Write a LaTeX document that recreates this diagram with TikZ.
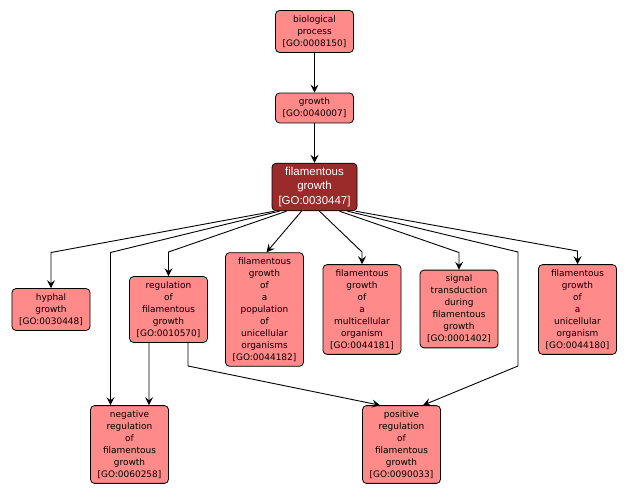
\documentclass[tikz,border=0pt]{standalone}
\usepackage{fontspec}
\setmainfont{DejaVu Sans}
\newfontfamily\focusfont{Liberation Sans}
\usetikzlibrary{arrows.meta}

\definecolor{gopink}{HTML}{FF8A8A}
\definecolor{godark}{HTML}{9B2B2B}

\tikzset{
  term/.style={draw=black, line width=0.8bp, fill=gopink, rounded corners=4bp,
    minimum width=78bp, inner xsep=2bp, inner ysep=5bp, align=center,
    font=\fontsize{9}{12}\selectfont},
  focus/.style={term, fill=godark, text=white, minimum width=85bp, inner ysep=4bp,
    font=\focusfont\fontsize{11.5}{14.5}\selectfont},
  isa/.style={line width=0.9bp, -{Stealth[length=8bp,width=8bp,inset=3bp]}}
}

\begin{document}
\begin{tikzpicture}[x=1bp,y=-1bp]
\useasboundingbox (0,0) rectangle (629,495);

% Terms
\node[term] (bio) at (314.5,31.5) {biological\\process\\{[GO:0008150]}};
\node[term] (grow) at (314.5,108) {growth\\{[GO:0040007]}};
\node[focus] (fil) at (314.5,187) {filamentous\\growth\\{[GO:0030447]}};

\node[term] (hyph) at (51,309.5) {hyphal\\growth\\{[GO:0030448]}};
\node[term] (reg) at (168.5,309.5) {regulation\\of\\filamentous\\growth\\{[GO:0010570]}};
\node[term] (pop) at (264.5,309.5) {filamentous\\growth\\of\\a\\population\\of\\unicellular\\organisms\\{[GO:0044182]}};
\node[term] (multi) at (362,309.5) {filamentous\\growth\\of\\a\\multicellular\\organism\\{[GO:0044181]}};
\node[term] (sig) at (459,309) {signal\\transduction\\during\\filamentous\\growth\\{[GO:0001402]}};
\node[term] (uni) at (577.5,309.5) {filamentous\\growth\\of\\a\\unicellular\\organism\\{[GO:0044180]}};

\node[term] (neg) at (129.5,444.5) {negative\\regulation\\of\\filamentous\\growth\\{[GO:0060258]}};
\node[term] (pos) at (401.5,444.5) {positive\\regulation\\of\\filamentous\\growth\\{[GO:0090033]}};

% Bend points
\coordinate (kh) at (51,252.5);   % to hyphal
\coordinate (kn) at (110.5,252.5); % to negative
\coordinate (kr) at (168.5,252);  % to regulation
\coordinate (km) at (362,252);    % to multicellular
\coordinate (ks) at (459,252.5);  % to signal
\coordinate (kp) at (518,252);    % to positive (top)
\coordinate (kq) at (518,366);    % to positive (low)
\coordinate (ku) at (577.5,251);  % to unicellular
\coordinate (kg) at (188,366);    % regulation to positive

% Edges
\draw[isa] (bio) -- (grow);
\draw[isa] (grow) -- (fil);
\draw[isa] ([xshift=-40bp]fil.south) -- (kh) -- (hyph);
\draw[isa] ([xshift=-35bp]fil.south) -- (kn) -- (kn |- neg.north);
\draw[isa] ([xshift=-28bp]fil.south) -- (kr) -- (reg);
\draw[isa] ([xshift=-13bp]fil.south) -- ([xshift=2bp]pop.north);
\draw[isa] ([xshift=5bp]fil.south) -- (km) -- (multi);
\draw[isa] ([xshift=25bp]fil.south) -- (ks) -- (sig);
\draw[isa] ([xshift=33bp]fil.south) -- (kp) -- (kq) -- ([xshift=21.5bp]pos.north);
\draw[isa] ([xshift=41bp]fil.south) -- (ku) -- (uni);
\draw[isa] ([xshift=-19.5bp]reg.south) -- ([xshift=19.5bp]neg.north);
\draw[isa] ([xshift=19.5bp]reg.south) -- (kg) -- ([xshift=-21.5bp]pos.north);

\end{tikzpicture}
\end{document}
